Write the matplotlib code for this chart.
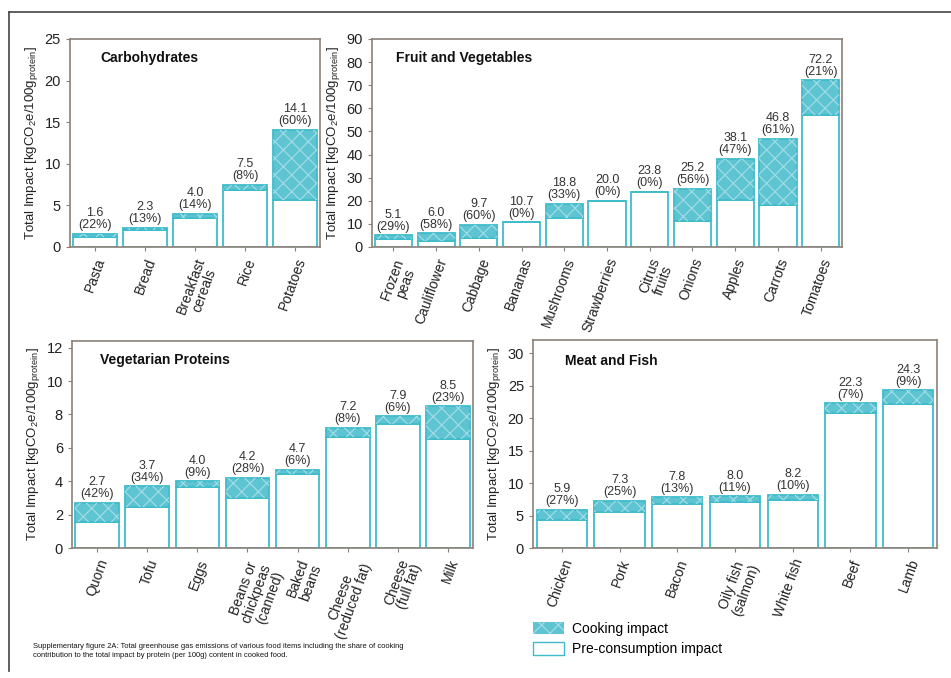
import matplotlib
matplotlib.use("Agg")
import matplotlib.pyplot as plt
from matplotlib.patches import Patch
from matplotlib.lines import Line2D

plt.rcParams["font.family"] = ["Liberation Sans", "DejaVu Sans"]
plt.rcParams["hatch.linewidth"] = 0.9
plt.rcParams["mathtext.default"] = "regular"

# totals (kgCO2e / 100 g protein) and cooking share (%)
carb_names = ["Pasta", "Bread", "Breakfast\ncereals", "Rice", "Potatoes"]
carb_total = [1.6, 2.3, 4.0, 7.5, 14.1]
carb_pct = [22, 13, 14, 8, 60]

veg_names = ["Frozen\npeas", "Cauliflower", "Cabbage", "Bananas", "Mushrooms",
             "Strawberries", "Citrus\nfruits", "Onions", "Apples", "Carrots", "Tomatoes"]
veg_total = [5.1, 6.0, 9.7, 10.7, 18.8, 20.0, 23.8, 25.2, 38.1, 46.8, 72.2]
veg_pct = [29, 58, 60, 0, 33, 0, 0, 56, 47, 61, 21]

prot_names = ["Quorn", "Tofu", "Eggs", "Beans or\nchickpeas\n(canned)", "Baked\nbeans",
              "Cheese\n(reduced fat)", "Cheese\n(full fat)", "Milk"]
prot_total = [2.7, 3.7, 4.0, 4.2, 4.7, 7.2, 7.9, 8.5]
prot_pct = [42, 34, 9, 28, 6, 8, 6, 23]

meat_names = ["Chicken", "Pork", "Bacon", "Oily fish\n(salmon)", "White fish", "Beef", "Lamb"]
meat_total = [5.9, 7.3, 7.8, 8.0, 8.2, 22.3, 24.3]
meat_pct = [27, 25, 13, 11, 10, 7, 9]

TEAL = "#3fbccb"
FILL = "#5ec4d2"
HATCH = "#9fdbe5"
FRAME = "#8c8079"
YLABEL = "Total Impact [kgCO$_2$e/100g$_{protein}$]"


def panel(ax, title, names, total, pct, ymax, yticks, title_xy):
    x = list(range(len(names)))
    w = 0.87
    pre = [t * (1 - p / 100) for t, p in zip(total, pct)]
    cook = [t - p for t, p in zip(total, pre)]
    ax.bar(x, pre, width=w, color="white", edgecolor=TEAL, linewidth=1.3, zorder=2)
    ax.bar(x, cook, bottom=pre, width=w, color=FILL, edgecolor=TEAL, linewidth=1.3, zorder=2)
    ax.bar(x, cook, bottom=pre, width=w, color="none", edgecolor=HATCH, hatch="xx",
           linewidth=0, zorder=3)
    for xi, t, p in zip(x, total, pct):
        ax.text(xi, t + ymax * 0.012, f"{t:.1f}\n({p}%)", ha="center", va="bottom",
                fontsize=9, color="#333333", linespacing=1.0)
    ax.set_xlim(-0.5, len(names) - 0.5)
    ax.set_ylim(0, ymax)
    ax.set_yticks(yticks)
    ax.set_xticks(x)
    ax.set_xticklabels(names, rotation=70, ha="right", rotation_mode="anchor",
                       fontsize=10, color="#222222", linespacing=1.0,
                       multialignment="center")
    ax.tick_params(axis="y", labelsize=10.5, colors="#222222", length=3, color=FRAME)
    ax.tick_params(axis="x", length=3, color=FRAME)
    for s in ax.spines.values():
        s.set_color(FRAME)
        s.set_linewidth(1.2)
    ax.set_ylabel(YLABEL, fontsize=9.5, color="#222222", labelpad=3)
    ax.text(title_xy[0], title_xy[1], title, transform=ax.transAxes, fontsize=10,
            fontweight="bold", va="center", ha="left", color="#111111")


fig = plt.figure(figsize=(9.51, 6.78), dpi=100)

ax1 = fig.add_axes([0.0736, 0.6357, 0.263, 0.3068])
panel(ax1, "Carbohydrates", carb_names, carb_total, carb_pct, 25, range(0, 26, 5), (0.12, 0.91))

ax2 = fig.add_axes([0.3912, 0.6357, 0.4942, 0.3068])
panel(ax2, "Fruit and Vegetables", veg_names, veg_total, veg_pct, 90, range(0, 91, 10), (0.05, 0.91))

ax3 = fig.add_axes([0.0757, 0.1917, 0.4217, 0.3053])
panel(ax3, "Vegetarian Proteins", prot_names, prot_total, prot_pct, 12.4, range(0, 13, 2), (0.07, 0.91))

ax4 = fig.add_axes([0.5605, 0.1917, 0.4248, 0.3068])
panel(ax4, "Meat and Fish", meat_names, meat_total, meat_pct, 32, range(0, 31, 5), (0.08, 0.9))

# legend
handles = [Patch(facecolor=FILL, edgecolor=HATCH, hatch="xx", linewidth=0),
           Patch(facecolor="white", edgecolor=TEAL, linewidth=1.0)]
fig.legend(handles, ["Cooking impact", "Pre-consumption impact"], loc="upper left",
           bbox_to_anchor=(0.555, 0.091), bbox_transform=fig.transFigure,
           frameon=False, fontsize=10, handlelength=2.2, handleheight=1.0,
           labelspacing=0.45, handletextpad=0.6, borderaxespad=0)

# caption
fig.text(0.035, 0.052,
         "Supplementary figure 2A: Total greenhouse gas emissions of various food items including the share of cooking\n"
         "contribution to the total impact by protein (per 100g) content in cooked food.",
         fontsize=5.4, va="top", ha="left", color="#111111", fontstretch="condensed",
         linespacing=1.5)

# page frame
fig.add_artist(Line2D([0.0095, 0.0095], [0.01, 0.982], transform=fig.transFigure,
                      color="#444444", linewidth=1.2))
fig.add_artist(Line2D([0.0095, 1.0], [0.982, 0.982], transform=fig.transFigure,
                      color="#444444", linewidth=1.2))

fig.savefig("out.png", dpi=100)
